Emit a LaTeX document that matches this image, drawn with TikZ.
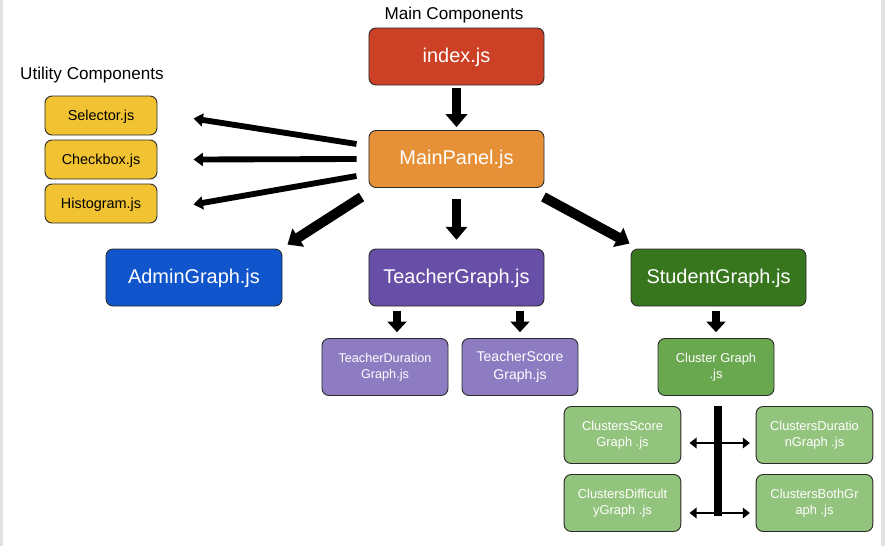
\documentclass[tikz,border=0pt]{standalone}
\usepackage{fontspec}
\setmainfont{Liberation Sans}
\usepackage{xcolor}
\usetikzlibrary{arrows.meta,positioning,calc}
\definecolor{CompRed}{HTML}{CC4125}
\definecolor{CompOrange}{HTML}{E69138}
\definecolor{CompYellow}{HTML}{F1C232}
\definecolor{CompBlue}{HTML}{1155CC}
\definecolor{CompPurple}{HTML}{674EA7}
\definecolor{CompLilac}{HTML}{8E7CC3}
\definecolor{CompDarkGreen}{HTML}{38761D}
\definecolor{CompGreen}{HTML}{6AA84F}
\definecolor{CompLightGreen}{HTML}{93C47D}
\definecolor{CompBorder}{HTML}{2B2B2B}
\definecolor{FrameGrey}{HTML}{E2E2E2}

\begin{document}
\begin{tikzpicture}[x=0.03cm,y=-0.03cm,
  box/.style={draw=CompBorder,line width=0.8pt,rounded corners=6pt,inner sep=0pt,
    align=center,text=white,minimum height=1.71cm},
  bigbox/.style={box,minimum width=5.25cm,text height=1.0em,text depth=0.05em,
    font=\fontsize{17}{20}\selectfont},
  utilbox/.style={box,fill=CompYellow,text=black,minimum width=3.36cm,minimum height=1.17cm,
    text height=0.9em,text depth=0.1em,font=\fontsize{12.3}{14}\selectfont},
  subbox/.style={box,minimum width=3.5cm,font=\fontsize{11}{14}\selectfont},
  bigarrow/.style={line width=8.5pt,-{Triangle[width=18pt,length=11pt]}},
  midarrow/.style={line width=7.5pt,-{Triangle[width=16pt,length=9pt]}},
  utilarrow/.style={line width=5pt,-{Triangle[width=11pt,length=8pt]}},
  duoarrow/.style={line width=2.5pt,{Triangle[width=9pt,length=6pt]}-{Triangle[width=9pt,length=6pt]}}]
 \useasboundingbox (0,0) rectangle (885,546);
 \fill[white] (0,0) rectangle (885,546);
 \fill[FrameGrey] (0,0) rectangle (3,546);
 \fill[FrameGrey] (881,0) rectangle (885,546);

 % headings
 \node (mainhead) at (454,15.5) {\fontsize{14.6}{17}\selectfont Main Components};
 \node (utilhead) at (92,75.5) {\fontsize{14.6}{17}\selectfont Utility Components};

 % main components
 \node[bigbox,fill=CompRed] (index) at (456.5,56.5) {index.js};
 \node[bigbox,fill=CompOrange] (main) at (456.5,159) {MainPanel.js};
 \node[bigbox,fill=CompBlue,minimum width=5.28cm] (admin) at (194,277.5) {AdminGraph.js};
 \node[bigbox,fill=CompPurple] (teacher) at (456.5,277.5) {TeacherGraph.js};
 \node[bigbox,fill=CompDarkGreen] (student) at (718.5,277.5) {StudentGraph.js};

 % utility components
 \node[utilbox] (sel) at (101,115.5) {Selector.js};
 \node[utilbox] (chk) at (101,159.5) {Checkbox.js};
 \node[utilbox] (hist) at (101,203.5) {Histogram.js};

 % teacher and student parts
 \node[subbox,fill=CompLilac,minimum width=3.78cm,font=\fontsize{10.8}{14}\selectfont] (tdur) at (385,367) {TeacherDuration\\Graph.js};
 \node[subbox,fill=CompLilac,minimum width=3.48cm,font=\fontsize{12}{15}\selectfont] (tsco) at (520,367) {TeacherScore\\Graph.js};
 \node[subbox,fill=CompGreen,minimum width=3.48cm] (clu) at (716,367) {Cluster Graph\\.js};
 \node[subbox,fill=CompLightGreen] (csco) at (622.5,435) {ClustersScore\\Graph .js};
 \node[subbox,fill=CompLightGreen] (cdur) at (814.5,435) {ClustersDuratio\\nGraph .js};
 \node[subbox,fill=CompLightGreen] (cdif) at (622.5,503) {ClustersDifficult\\yGraph .js};
 \node[subbox,fill=CompLightGreen] (cboth) at (814.5,503) {ClustersBothGr\\aph .js};

 % connectors
 \draw[bigarrow,shorten <=2.5pt,shorten >=2.5pt] (index) -- (main);
 \draw[utilarrow] ([shift={(-12,-15)}]main.west) -- ([shift={(36,3)}]sel.east);
 \draw[utilarrow] ([shift={(-12,0)}]main.west) -- ([shift={(36,0)}]chk.east);
 \draw[utilarrow] ([shift={(-12,17)}]main.west) -- ([shift={(36,1)}]hist.east);
 \draw[bigarrow] ([shift={(-7,9)}]main.south west) -- ([shift={(5,-4)}]admin.north east);
 \draw[bigarrow,shorten <=9.5pt,shorten >=7.5pt] (main) -- (teacher);
 \draw[bigarrow] ([shift={(-1,9)}]main.south east) -- ([shift={(-1,-5)}]student.north west);

 \coordinate (tdx) at (397,0);
 \draw[midarrow,shorten <=3.5pt,shorten >=5pt] (teacher.south -| tdx) -- (tdur.north -| tdx);
 \draw[midarrow,shorten <=3.5pt,shorten >=5pt] (teacher.south -| tsco.north) -- (tsco.north);
 \draw[midarrow,shorten <=3.5pt,shorten >=5pt] (student.south -| clu.north) -- (clu.north);

 \coordinate (barend) at (718,516);
 \draw[line width=7pt] ([shift={(2,10)}]clu.south) -- (barend);
 \draw[duoarrow,shorten <=7pt,shorten >=5pt] ([shift={(0,8)}]csco.east) -- ([shift={(0,8)}]cdur.west);
 \draw[duoarrow,shorten <=7pt,shorten >=5pt] ([shift={(0,10)}]cdif.east) -- ([shift={(0,10)}]cboth.west);
\end{tikzpicture}
\end{document}
